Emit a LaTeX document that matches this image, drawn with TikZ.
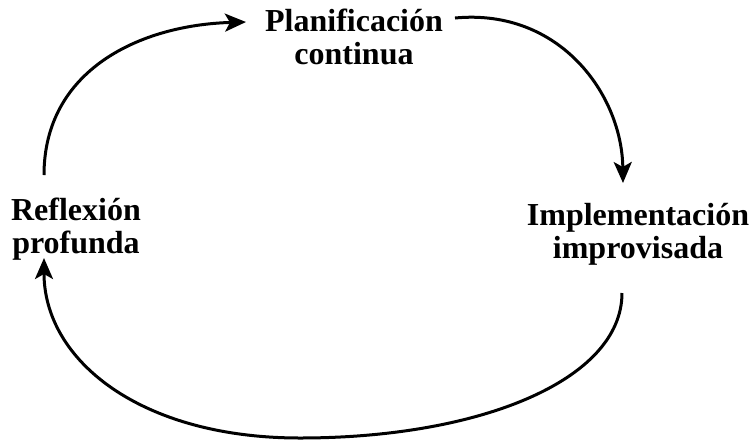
\documentclass[tikz,border=0pt]{standalone}
\usepackage{fontspec}
\setmainfont{Liberation Serif}
\usetikzlibrary{arrows.meta}
\begin{document}
\begin{tikzpicture}[x=0.5pt,y=-0.5pt]
	\useasboundingbox (0,0) rectangle (752,441);
	\tikzstyle{phase}=[align=center, font=\bfseries\fontsize{16}{16.5}\selectfont, inner sep=0pt]
	\node[phase] (plan) at (354,37) {Planificación\\continua};
	\node[phase] (refl) at (76,229) {Reflexión\\profunda};
	\node[phase] (impl) at (638,234) {Implementación\\improvisada};

	\coordinate (r1) at (44,175);
	\coordinate (p0) at (246,22);
	\coordinate (p1) at (455,18);
	\coordinate (i0) at (623,183);
	\coordinate (i1) at (622,293);
	\coordinate (r0) at (44,258);
	\begin{scope}[-{Stealth[length=10.5pt,width=9pt,inset=2.5pt]}, line width=1.5pt]
		\draw	(r1) .. controls (44,70) and (140,25) .. (p0);
		\draw	(p1) .. controls (560,8) and (622,95) .. (i0);
		\draw	(i1) .. controls (622,380) and (480,438) .. (300,438)
				.. controls (140,438) and (44,360) .. (r0);
	\end{scope}
\end{tikzpicture}
\end{document}
